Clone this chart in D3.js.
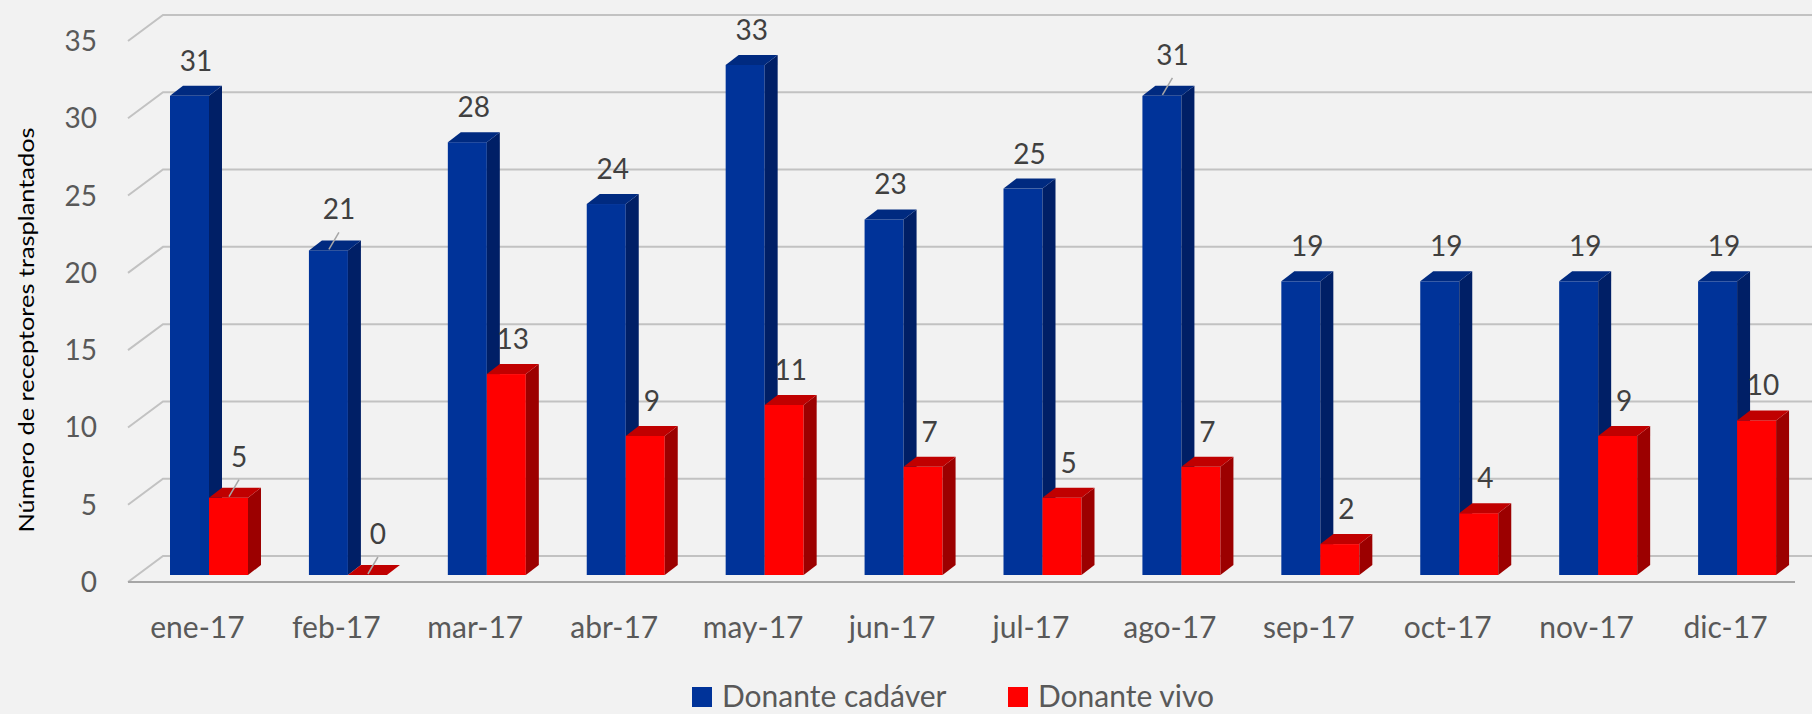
<!DOCTYPE html>
<html>
<head>
<meta charset="utf-8">
<script src="https://cdn.jsdelivr.net/npm/d3@7"></script>
<style>
  html, body { margin: 0; padding: 0; background: #f2f2f2; }
  svg { display: block; }
</style>
</head>
<body>
<div id="chart"></div>
<script>
const months = ["ene-17", "feb-17", "mar-17", "abr-17", "may-17", "jun-17", "jul-17", "ago-17", "sep-17", "oct-17", "nov-17", "dic-17"]
const cadaver = [31, 21, 28, 24, 33, 23, 25, 31, 19, 19, 19, 19]
const vivo = [5, 0, 13, 9, 11, 7, 5, 7, 2, 4, 9, 10]
const yTicks = [0, 5, 10, 15, 20, 25, 30, 35]
const seriesNames = ["Donante cadáver", "Donante vivo"]
// labels that Excel pushed away and tied with a leader line
const leaderCadaver = [1, 7]
const leaderVivo = [0, 1]

const width = 1812
const height = 714
const floorLeft = 128         // front left corner of the floor
const floorRight = 1795       // front right corner
const depthX = 35, depthY = -26      // floor depth offset (front -> back wall)
const barLift = 7                    // bars stand a bit behind the front edge
const barDX = 13, barDY = -10        // bar depth
const barW = 39
const barStart = 42                  // first bar offset inside the band
const font = "Lato, 'Open Sans', sans-serif"

const colors = {
  cadaver: { front: "#003399", side: "#001f66", top: "#002a80" },
  vivo: { front: "#ff0000", side: "#9c0000", top: "#c00000" }
}

const svg = d3.select("#chart").append("svg")
  .attr("width", width)
  .attr("height", height)
  .style("background", "#f2f2f2")

const x = d3.scaleBand().domain(months).range([floorLeft, floorRight]).padding(0)
const y = d3.scaleLinear().domain([0, 35]).range([582, 41])

// gridlines: diagonal on the side wall, then across the back wall
const grid = svg.append("g").attr("stroke", "#c2c2c2").attr("stroke-width", 2).attr("fill", "none")
grid.selectAll("path")
  .data(yTicks)
  .join("path")
  .attr("d", d => `M${floorLeft},${y(d)}L${floorLeft + depthX},${y(d) + depthY}L${width + 20},${y(d) + depthY}`)

// front edge of the floor
svg.append("line")
  .attr("x1", floorLeft).attr("x2", floorRight)
  .attr("y1", y(0)).attr("y2", y(0))
  .attr("stroke", "#a6a6a6").attr("stroke-width", 2)

// y tick labels
svg.append("g").selectAll("text")
  .data(yTicks)
  .join("text")
  .attr("x", 97)
  .attr("y", d => y(d) + 10)
  .attr("text-anchor", "end")
  .attr("font-family", font)
  .attr("font-size", 28)
  .attr("fill", "#595959")
  .text(d => d)

// y title
svg.append("text")
  .attr("transform", "translate(34,330) rotate(-90)")
  .attr("text-anchor", "middle")
  .attr("font-family", font)
  .attr("font-size", 21)
  .attr("textLength", 405)
  .attr("lengthAdjust", "spacingAndGlyphs")
  .attr("fill", "#000")
  .text("Número de receptores trasplantados")

// x labels
svg.append("g").selectAll("text")
  .data(months)
  .join("text")
  .attr("x", d => x(d) + x.bandwidth() / 2)
  .attr("y", 638)
  .attr("text-anchor", "middle")
  .attr("font-family", font)
  .attr("font-size", 30)
  .attr("fill", "#595959")
  .text(d => d)

// bars
const bars = []
months.forEach((m, i) => {
  const x0 = x(m) + barStart
  bars.push({ i, key: "cadaver", v: cadaver[i], x: x0, leader: leaderCadaver.includes(i) })
  bars.push({ i, key: "vivo", v: vivo[i], x: x0 + barW, leader: leaderVivo.includes(i) })
})

const barG = svg.append("g")
bars.forEach(b => {
  const c = colors[b.key]
  const yb = y(0) - barLift
  const yt = y(b.v) - barLift
  const g = barG.append("g")
  if (b.v > 0) {
    g.append("rect")
      .attr("x", b.x).attr("y", yt)
      .attr("width", barW).attr("height", yb - yt)
      .attr("fill", c.front)
    g.append("path")
      .attr("d", `M${b.x + barW},${yb}L${b.x + barW},${yt}L${b.x + barW + barDX},${yt + barDY}L${b.x + barW + barDX},${yb + barDY}Z`)
      .attr("fill", c.side)
  }
  g.append("path")
    .attr("d", `M${b.x},${yt}L${b.x + barDX},${yt + barDY}L${b.x + barW + barDX},${yt + barDY}L${b.x + barW},${yt}Z`)
    .attr("fill", c.top)
})

// data labels
const labelG = svg.append("g")
bars.forEach(b => {
  const yt = y(b.v) - barLift
  const cx = b.x + (barW + barDX) / 2
  const lx = b.leader ? cx + 4 : cx
  const ly = yt + barDY - (b.leader ? 21 : 15)
  if (b.leader) {
    labelG.append("line")
      .attr("x1", cx - 6).attr("y1", yt - 1)
      .attr("x2", lx).attr("y2", ly + 13)
      .attr("stroke", "#a6a6a6").attr("stroke-width", 1.5)
  }
  labelG.append("text")
    .attr("x", lx).attr("y", ly)
    .attr("text-anchor", "middle")
    .attr("font-family", font)
    .attr("font-size", 28)
    .attr("fill", "#404040")
    .text(b.v)
})

// legend
const legend = svg.append("g").attr("transform", "translate(692,687)")
const legendX = [0, 316]
seriesNames.forEach((name, k) => {
  const key = k === 0 ? "cadaver" : "vivo"
  const g = legend.append("g").attr("transform", `translate(${legendX[k]},0)`)
  g.append("rect").attr("width", 20).attr("height", 20).attr("fill", colors[key].front)
  g.append("text")
    .attr("x", 30).attr("y", 20)
    .attr("font-family", font)
    .attr("font-size", 30)
    .attr("fill", "#595959")
    .text(name)
})
</script>
</body>
</html>
